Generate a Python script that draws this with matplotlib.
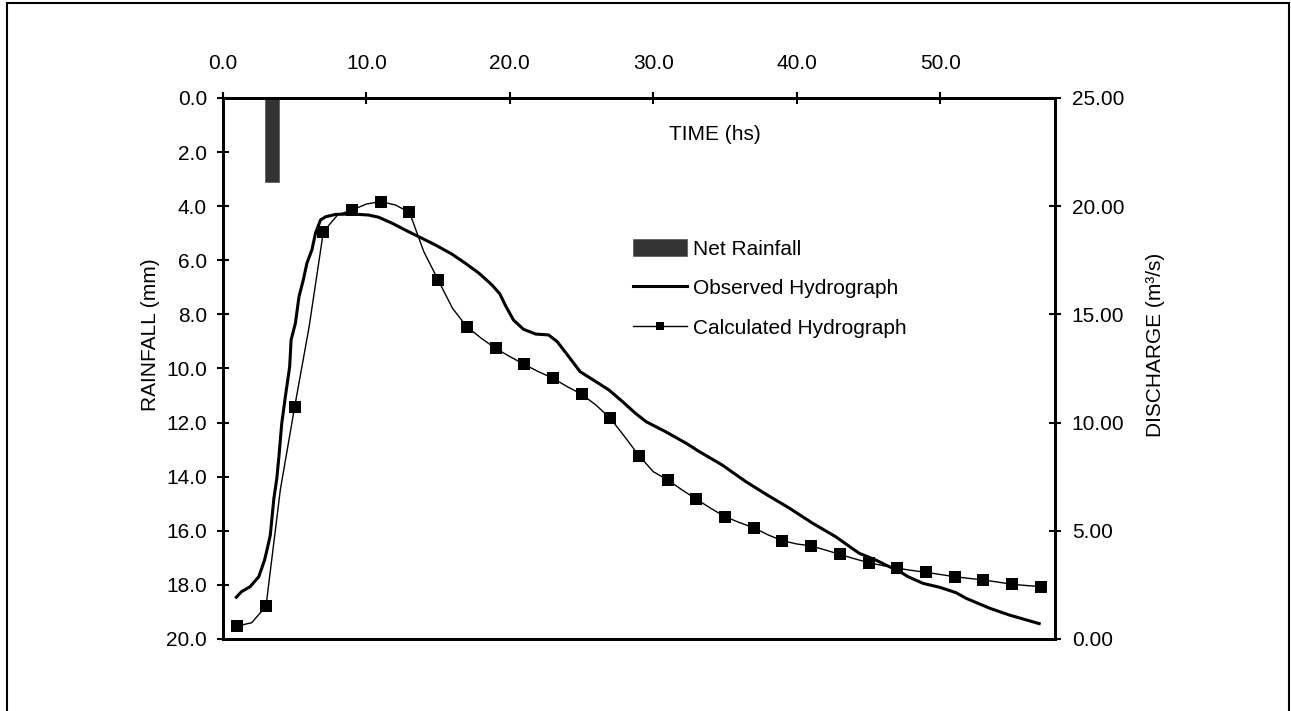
import matplotlib
matplotlib.use("Agg")
import matplotlib.pyplot as plt
from matplotlib.patches import Rectangle, Patch
from matplotlib.lines import Line2D
from matplotlib.ticker import FormatStrFormatter

plt.rcParams['font.family'] = ['Liberation Sans', 'DejaVu Sans']
plt.rcParams['font.size'] = 15

# net rainfall (mm)
rain_t = [3.4]
rain_mm = [3.1]

# observed hydrograph (hours, m3/s)
obs_t = [0.86, 1.3, 1.9, 2.5, 2.9, 3.1, 3.3, 3.55, 3.75, 3.9, 4.1, 4.35, 4.65,
         4.75, 5.05, 5.3, 5.6, 5.85, 6.2, 6.45, 6.8, 7.15, 7.85, 9.0, 10.15,
         10.85, 11.8, 12.7, 13.65, 14.8, 15.95, 16.9, 17.85, 18.75, 19.3, 19.7,
         20.25, 20.95, 21.8, 22.7, 23.3, 24.1, 24.9, 26.0, 26.9, 27.85, 28.75,
         29.5, 30.85, 32.3, 33.2, 34.8, 36.45, 37.95, 39.5, 41.1, 42.7, 44.35,
         45.5, 46.45, 47.0, 47.75, 48.8, 49.95, 51.1, 51.8, 53.45, 54.8, 57.0]
obs_q = [1.88, 2.19, 2.42, 2.88, 3.65, 4.2, 4.8, 6.5, 7.4, 8.42, 9.97, 11.2,
         12.58, 13.82, 14.59, 15.82, 16.59, 17.36, 17.98, 18.75, 19.36, 19.51,
         19.62, 19.64, 19.59, 19.49, 19.21, 18.9, 18.59, 18.21, 17.79, 17.36,
         16.9, 16.36, 15.95, 15.4, 14.74, 14.31, 14.09, 14.05, 13.74, 13.05,
         12.35, 11.89, 11.51, 10.97, 10.43, 10.04, 9.58, 9.04, 8.66, 8.04, 7.27,
         6.65, 6.04, 5.35, 4.73, 3.96, 3.65, 3.34, 3.19, 2.88, 2.57, 2.39, 2.14,
         1.88, 1.42, 1.11, 0.69]

# calculated hydrograph, hourly (markers every 2 h)
calc_t = list(range(1, 58))
calc_q = [0.60, 0.75, 1.51, 6.9, 10.73, 14.4, 18.82, 19.6, 19.82, 20.1, 20.21,
          20.06, 19.72, 17.9, 16.59, 15.28, 14.43, 13.9, 13.43, 13.05, 12.69,
          12.35, 12.05, 11.66, 11.31, 10.81, 10.20, 9.35, 8.47, 7.73, 7.35,
          6.89, 6.46, 6.04, 5.65, 5.38, 5.14, 4.81, 4.54, 4.39, 4.30, 4.11,
          3.91, 3.71, 3.53, 3.39, 3.27, 3.17, 3.08, 2.98, 2.88, 2.80, 2.73,
          2.63, 2.53, 2.47, 2.42]

time_ticks = [0, 10, 20, 30, 40, 50]
rain_ticks = [0, 2, 4, 6, 8, 10, 12, 14, 16, 18, 20]
flow_ticks = [0, 5, 10, 15, 20, 25]

fig = plt.figure(figsize=(12.91, 7.11), dpi=100)
ax = fig.add_axes([0.1727, 0.1013, 0.6445, 0.7609])
ax2 = ax.twinx()

ax.bar(rain_t, rain_mm, width=1.0, color='#333333', edgecolor='#555555', linewidth=0.5)
ax.set_xlim(0, 58)
ax.set_ylim(20, 0)
ax.set_xticks(time_ticks)
ax.set_yticks(rain_ticks)
ax.xaxis.set_major_formatter(FormatStrFormatter('%.1f'))
ax.yaxis.set_major_formatter(FormatStrFormatter('%.1f'))
ax.xaxis.tick_top()
ax.tick_params(axis='x', direction='inout', length=9, width=1.5, pad=13.5, labelsize=15)
ax.tick_params(axis='y', direction='inout', length=9, width=1.5, pad=7, labelsize=15)

ax2.plot(obs_t, obs_q, color='black', lw=2.2, solid_capstyle='butt')
ax2.plot(calc_t, calc_q, color='black', lw=1.0, marker='s', markersize=8.5,
         markevery=2, markeredgewidth=0)
ax2.set_ylim(0, 25)
ax2.set_yticks(flow_ticks)
ax2.yaxis.set_major_formatter(FormatStrFormatter('%.2f'))
ax2.tick_params(axis='y', direction='inout', length=9, width=1.5, pad=7.5, labelsize=15)

for a in (ax, ax2):
    for s in a.spines.values():
        s.set_linewidth(2)

ax.text(0.591, 0.933, 'TIME (hs)', transform=ax.transAxes, ha='center', va='center', fontsize=15)
fig.text(0.1165, 0.529, 'RAINFALL (mm)', rotation=90, ha='center', va='center', fontsize=15)
fig.text(0.8947, 0.515, 'DISCHARGE (m³/s)', rotation=90, ha='center', va='center', fontsize=15)

handles = [Patch(facecolor='#333333', edgecolor='#555555', linewidth=0.5),
           Line2D([], [], color='black', lw=2.2),
           Line2D([], [], color='black', lw=1.0, marker='s', markersize=6, markeredgewidth=0)]
labels = ['Net Rainfall', 'Observed Hydrograph', 'Calculated Hydrograph']
ax2.legend(handles, labels, loc='upper left', bbox_to_anchor=(0.4825, 0.755),
           frameon=False, handlelength=2.6, handleheight=0.9, handletextpad=0.3,
           labelspacing=0.95, fontsize=15, borderaxespad=0, borderpad=0.4)

fig.add_artist(Rectangle((0.0054, -0.02), 0.993, 1.0158, transform=fig.transFigure,
                         fill=False, edgecolor='black', lw=1.5))

fig.savefig('out.png', dpi=100)
